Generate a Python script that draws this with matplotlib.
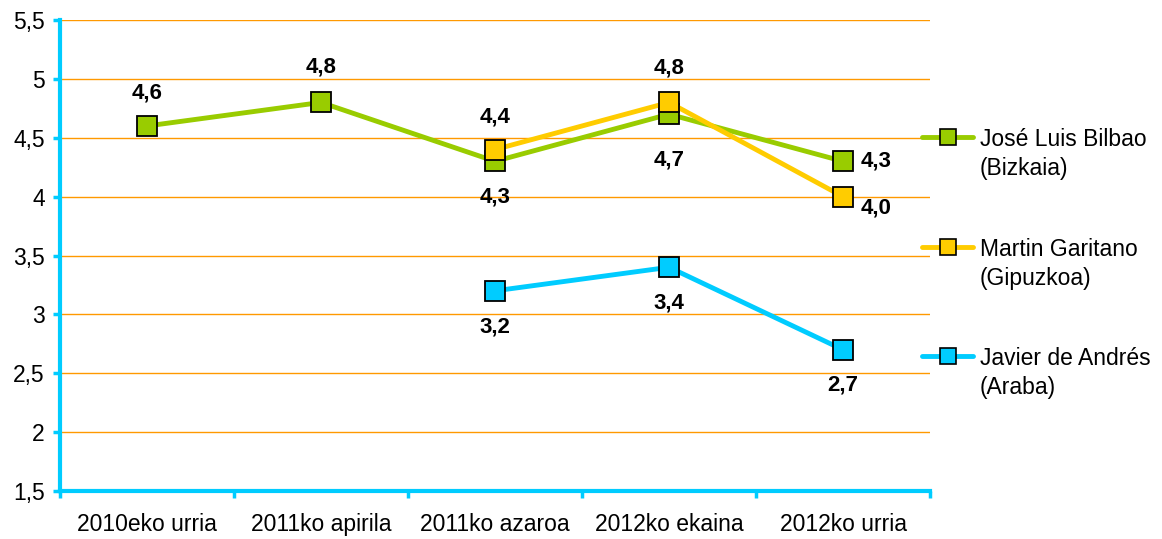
import matplotlib.pyplot as plt
from matplotlib.lines import Line2D
import numpy as np

plt.rcParams['font.family'] = ['Liberation Sans', 'DejaVu Sans']

periods = ["2010eko urria", "2011ko apirila", "2011ko azaroa", "2012ko ekaina", "2012ko urria"]
bilbao = [4.6, 4.8, 4.3, 4.7, 4.3]
garitano = [np.nan, np.nan, 4.4, 4.8, 4.0]
andres = [np.nan, np.nan, 3.2, 3.4, 2.7]

names = ["José Luis Bilbao", "Martin Garitano", "Javier de Andrés"]
regions = ["(Bizkaia)", "(Gipuzkoa)", "(Araba)"]
colors = ["#99CC00", "#FFCC00", "#00CCFF"]

# label placement per point: (dx, dy) in pixels
bilbao_pos = [(0, 33), (0, 35), (0, -36), (0, -46), (33, 0)]
garitano_pos = [None, None, (0, 33), (0, 34), (33, -11)]
andres_pos = [None, None, (0, -36), (0, -36), (0, -35)]

axis_col = "#00CCFF"
grid_col = "#FF9900"

W, H = 1162, 539
fig = plt.figure(figsize=(W/100, H/100), dpi=100)
ax = fig.add_axes([60/W, 1-491/H, 870/W, 471/H])

x = np.arange(len(periods))
for vals, col, pos in [(bilbao, colors[0], bilbao_pos),
                       (garitano, colors[1], garitano_pos),
                       (andres, colors[2], andres_pos)]:
    ax.plot(x, vals, color=col, lw=3.5, marker='s', ms=14.5, mfc=col, mec='black',
            mew=1.3, zorder=3)
    for xi, v, p in zip(x, vals, pos):
        if p is None or np.isnan(v):
            continue
        ax.annotate(f"{v:.1f}".replace('.', ','), (xi, v), xytext=(p[0] * 0.72, p[1] * 0.72),
                    textcoords='offset points', ha='center', va='center',
                    fontsize=16, fontweight='bold', zorder=4)

ax.set_xlim(-0.5, 4.5)
ax.set_ylim(1.5, 5.5)
ax.set_yticks(np.arange(1.5, 5.51, 0.5))
ax.set_yticklabels([f"{t:g}".replace('.', ',') for t in np.arange(1.5, 5.51, 0.5)])
ax.set_xticks(x)
ax.set_xticklabels(periods)
ax.set_xticks(np.arange(-0.5, 4.6, 1), minor=True)
ax.tick_params(axis='x', which='major', length=0, pad=16, labelsize=16.5)
ax.tick_params(axis='x', which='minor', length=5, width=2.5, color=axis_col, direction='out')
ax.tick_params(axis='y', length=5, width=2.5, color=axis_col, direction='out', labelsize=16.5, pad=6)

for y in np.arange(2, 5.51, 0.5):
    ax.axhline(y, color=grid_col, lw=1, zorder=1)

for side in ['top', 'right']:
    ax.spines[side].set_visible(False)
for side in ['left', 'bottom']:
    ax.spines[side].set_color(axis_col)
    ax.spines[side].set_linewidth(3)

# legend drawn by hand so the key sits on the first text line
for i, (name, reg, col) in enumerate(zip(names, regions, colors)):
    yy = 1 - (137 + i * 109.5) / H
    fig.add_artist(Line2D([922/W, 973/W], [yy, yy], transform=fig.transFigure,
                          color=col, lw=3.5, solid_capstyle='round'))
    fig.add_artist(Line2D([947.5/W], [yy], transform=fig.transFigure, marker='s',
                          ms=11, mfc=col, mec='black', mew=1.2, ls='none'))
    fig.text(980/W, yy, name, fontsize=16.5, va='center_baseline', ha='left')
    fig.text(980/W, yy - 29/H, reg, fontsize=16.5, va='center_baseline', ha='left')

fig.savefig("out.png", dpi=100)
